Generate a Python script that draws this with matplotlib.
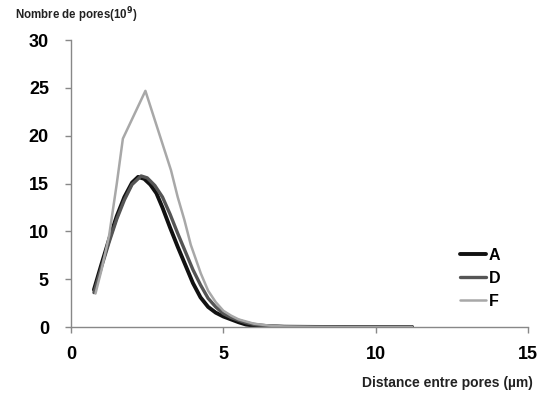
import matplotlib

matplotlib.use("Agg")
import matplotlib.pyplot as plt

plt.rcParams["font.family"] = ["Liberation Sans", "DejaVu Sans"]

# distance between pores (um) and pore counts (10^9)
x_a = [0.75, 1.0, 1.25, 1.5, 1.75, 2.0, 2.2, 2.4, 2.6, 2.8, 3.0, 3.25, 3.5, 3.75,
       4.0, 4.25, 4.5, 4.75, 5.0, 5.25, 5.5, 5.75, 6.0, 6.5, 7.0, 8.0, 9.0, 11.2]
y_a = [3.9, 6.6, 9.2, 11.6, 13.6, 15.1, 15.7, 15.5, 14.9, 14.0, 12.5, 10.4, 8.4, 6.5,
       4.6, 3.1, 2.1, 1.5, 1.1, 0.8, 0.5, 0.25, 0.15, 0.07, 0.03, 0.01, 0.0, 0.0]

x_d = [0.75, 1.0, 1.25, 1.5, 1.75, 2.0, 2.3, 2.5, 2.75, 3.0, 3.25, 3.5, 3.75, 4.0,
       4.25, 4.5, 4.75, 5.0, 5.25, 5.5, 5.75, 6.0, 6.5, 7.0, 8.0, 9.0, 11.2]
y_d = [3.6, 6.3, 8.9, 11.3, 13.3, 14.9, 15.8, 15.6, 14.8, 13.6, 11.8, 9.8, 7.9, 6.0,
       4.4, 3.0, 2.1, 1.4, 1.0, 0.7, 0.45, 0.28, 0.1, 0.04, 0.01, 0.0, 0.0]

x_f = [0.8, 1.0, 1.25, 1.5, 1.7, 2.44, 3.28, 3.5, 3.72, 3.93, 4.26, 4.5, 4.75, 5.0,
       5.25, 5.5, 6.0, 6.5, 7.0, 8.0, 9.0, 11.2]
y_f = [3.5, 6.0, 9.6, 15.0, 19.7, 24.7, 16.4, 13.6, 11.2, 8.6, 5.6, 3.8, 2.6, 1.7,
       1.2, 0.8, 0.35, 0.15, 0.05, 0.01, 0.0, 0.0]

series = [
    ("A", x_a, y_a, "#111111", 2.8),
    ("D", x_d, y_d, "#555555", 2.4),
    ("F", x_f, y_f, "#a8a8a8", 1.8),
]

x_ticks = [0, 5, 10, 15]
y_ticks = [0, 5, 10, 15, 20, 25, 30]

fig = plt.figure(figsize=(5.47, 3.94), dpi=100)
ax = fig.add_axes([0.130, 0.170, 0.835, 0.728])

for name, xs, ys, color, lw in series:
    ax.plot(xs, ys, color=color, lw=lw, label=name,
            solid_capstyle="round", solid_joinstyle="round")

ax.set_xlim(0, 15)
ax.set_ylim(0, 30)
ax.set_xticks(x_ticks)
ax.set_yticks(y_ticks)
ax.tick_params(axis="both", direction="out", length=4, width=1, color="#888888",
               labelsize=13)
ax.tick_params(axis="y", pad=12)
ax.tick_params(axis="x", pad=10)
for lbl in ax.get_xticklabels() + ax.get_yticklabels():
    lbl.set_fontweight("bold")

for side in ("top", "right"):
    ax.spines[side].set_visible(False)
for side in ("left", "bottom"):
    ax.spines[side].set_color("#888888")
    ax.spines[side].set_linewidth(1)

fig.text(0.027, 0.962, r"Nombre de pores(10$^{\mathbf{9}}$)", fontsize=8.3,
         fontweight="bold", ha="left", va="center", color="#222222")
fig.text(0.975, 0.028, "Distance entre pores (\u00b5m)", fontsize=10, fontweight="bold",
         ha="right", va="center", color="#222222")

leg = ax.legend(loc="center left", bbox_to_anchor=(0.82, 0.17), frameon=False,
                handlelength=1.6, handletextpad=0.2, labelspacing=0.5,
                prop={"size": 11.5, "weight": "bold"})

fig.savefig("out.png", dpi=100)
